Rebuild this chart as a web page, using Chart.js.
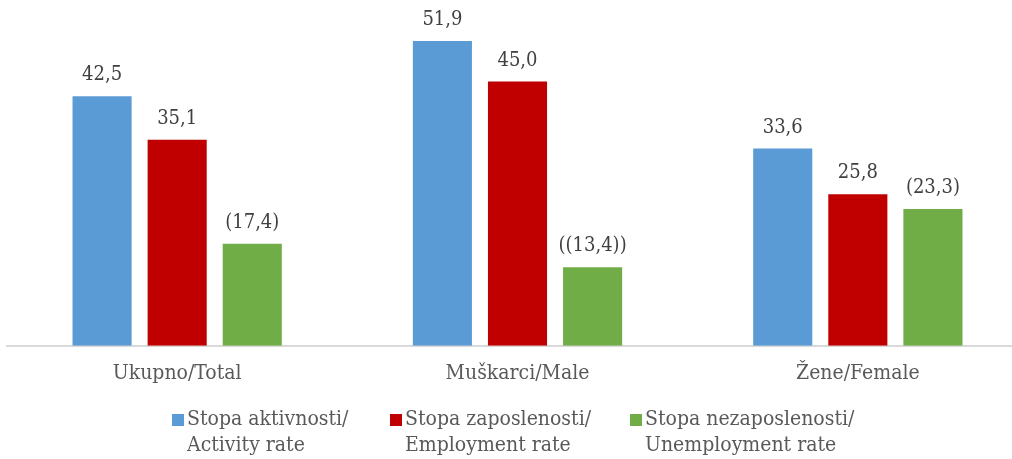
<!DOCTYPE html>
<html>
<head>
<meta charset="utf-8">
<script src="https://cdn.jsdelivr.net/npm/chart.js@4/dist/chart.umd.min.js"></script>
<style>
  html, body { margin: 0; padding: 0; background: #fff; overflow: hidden; }
  #wrap { position: relative; width: 1028px; height: 459px; }
</style>
</head>
<body>
<div id="wrap"><canvas id="chart"></canvas></div>
<script>
var categories = ['Ukupno/Total', 'Muškarci/Male', 'Žene/Female'];

var activity = [42.5, 51.9, 33.6];
var employment = [35.1, 45.0, 25.8];
var unemployment = [17.4, 13.4, 23.3];

// printed labels, as they stand in the source
var activityText = ['42,5', '51,9', '33,6'];
var employmentText = ['35,1', '45,0', '25,8'];
var unemploymentText = ['(17,4)', '((13,4))', '(23,3)'];

var seriesNames = [
    ['Stopa aktivnosti/', 'Activity rate'],
    ['Stopa zaposlenosti/', 'Employment rate'],
    ['Stopa nezaposlenosti/', 'Unemployment rate']
];
var colors = ['#5b9bd5', '#c00000', '#70ad47'];

var FONT = '"DejaVu Serif Condensed", "DejaVu Serif", serif';

var valueLabels = {
    id: 'valueLabels',
    afterDatasetsDraw: function (chart) {
        var ctx = chart.ctx;
        ctx.save();
        ctx.font = '20px ' + FONT;
        ctx.fillStyle = '#404040';
        ctx.textAlign = 'center';
        ctx.textBaseline = 'alphabetic';
        chart.data.datasets.forEach(function (ds, i) {
            chart.getDatasetMeta(i).data.forEach(function (bar, j) {
                ctx.fillText(ds.texts[j], bar.x, bar.y - 16);
            });
        });
        ctx.restore();
    }
};

var legendBoxes = {
    id: 'legendBoxes',
    afterDraw: function (chart) {
        var ctx = chart.ctx;
        var xs = [172, 390, 630];
        ctx.save();
        ctx.font = '21px ' + FONT;
        ctx.textBaseline = 'middle';
        ctx.textAlign = 'left';
        seriesNames.forEach(function (lines, i) {
            ctx.fillStyle = colors[i];
            ctx.fillRect(xs[i], 414, 12, 12);
            ctx.fillStyle = '#595959';
            ctx.fillText(lines[0], xs[i] + 15, 420);
            ctx.fillText(lines[1], xs[i] + 15, 446);
        });
        ctx.restore();
    }
};

function set(label, data, texts, color) {
    return {
        label: label,
        data: data,
        texts: texts,
        backgroundColor: color,
        categoryPercentage: 0.662,
        barPercentage: 0.787
    };
}

new Chart(document.getElementById('chart'), {
    type: 'bar',
    data: {
        labels: categories,
        datasets: [
            set(seriesNames[0].join(' '), activity, activityText, colors[0]),
            set(seriesNames[1].join(' '), employment, employmentText, colors[1]),
            set(seriesNames[2].join(' '), unemployment, unemploymentText, colors[2])
        ]
    },
    options: {
        responsive: true,
        maintainAspectRatio: false,
        animation: false,
        layout: { padding: { left: 7, right: 0, top: 0, bottom: 58 } },
        plugins: {
            legend: { display: false },
            tooltip: { enabled: false }
        },
        scales: {
            x: {
                grid: { display: false, drawTicks: false },
                border: { display: true, color: '#d9d9d9', width: 2 },
                ticks: {
                    padding: 15,
                    color: '#595959',
                    font: { family: FONT, size: 21 }
                }
            },
            y: {
                display: false,
                min: 0,
                max: 58.9
            }
        }
    },
    plugins: [valueLabels, legendBoxes]
});
</script>
</body>
</html>
